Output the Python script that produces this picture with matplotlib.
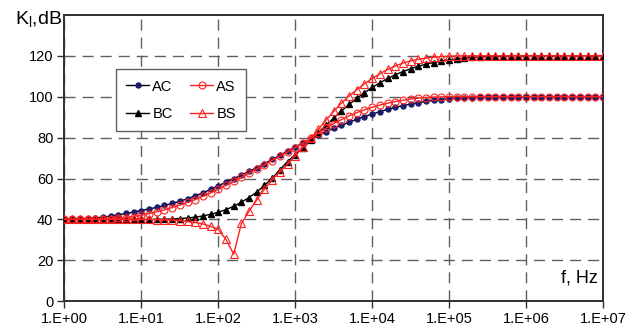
import numpy as np
import matplotlib
matplotlib.use('Agg')
import matplotlib.pyplot as plt
from matplotlib.ticker import FixedLocator, FixedFormatter

plt.rcParams['font.family'] = ['Liberation Sans', 'DejaVu Sans']

# frequency grid: 10 points per decade, 1 Hz .. 10 MHz
freq = np.logspace(0, 7, 71)

AC = [40.0, 40.1, 40.2, 40.4, 40.7, 41.1, 41.6, 42.2, 42.9, 43.6,
      44.3, 45.1, 45.9, 46.8, 47.8, 48.9, 50.1, 51.5, 53.0, 54.7,
      56.5, 58.2, 59.9, 61.7, 63.5, 65.3, 67.3, 69.3, 71.3, 73.4,
      75.5, 77.4, 79.3, 81.1, 82.9, 84.5, 86.0, 87.5, 89.0, 90.3,
      91.5, 92.7, 93.8, 94.8, 95.6, 96.4, 97.1, 97.7, 98.2, 98.6,
      98.9, 99.2, 99.4, 99.6, 99.7, 99.8, 99.9, 99.9, 100.0, 100.0,
      100.0, 100.0, 100.0, 100.0, 100.0, 100.0, 100.0, 100.0, 100.0, 100.0,
      100.0]

AS = [40.0, 40.0, 40.0, 40.1, 40.1, 40.2, 40.4, 40.6, 40.9, 41.4,
      42.0, 42.8, 43.7, 44.7, 45.8, 47.0, 48.3, 49.7, 51.3, 53.0,
      54.8, 56.7, 58.6, 60.6, 62.6, 64.6, 66.7, 68.8, 70.9, 73.0,
      75.1, 77.3, 79.7, 82.2, 84.6, 86.8, 88.8, 90.6, 92.2, 93.6,
      94.8, 95.9, 96.8, 97.6, 98.3, 98.9, 99.3, 99.6, 99.8, 99.9,
      100.0, 100.0, 100.0, 100.0, 100.0, 100.0, 100.0, 100.0, 100.0, 100.0,
      100.0, 100.0, 100.0, 100.0, 100.0, 100.0, 100.0, 100.0, 100.0, 100.0,
      100.0]

BC = [40.0, 40.0, 40.0, 40.0, 40.0, 40.0, 40.0, 40.0, 40.0, 40.0,
      40.0, 40.0, 40.0, 40.1, 40.2, 40.4, 40.7, 41.1, 41.7, 42.5,
      43.5, 44.8, 46.4, 48.4, 50.7, 53.4, 56.6, 60.2, 64.2, 68.3,
      71.7, 75.0, 78.6, 82.3, 86.0, 89.6, 93.0, 96.2, 99.2, 102.0,
      104.5, 106.8, 108.9, 110.7, 112.3, 113.7, 114.9, 115.9, 116.7, 117.4,
      118.0, 118.5, 118.9, 119.2, 119.5, 119.7, 119.8, 119.9, 120.0, 120.0,
      120.0, 120.0, 120.0, 120.0, 120.0, 120.0, 120.0, 120.0, 120.0, 120.0,
      120.0]

BS = [40.0, 40.0, 40.0, 40.0, 40.0, 40.0, 40.0, 40.0, 40.0, 40.0,
      40.0, 40.0, 39.9, 39.8, 39.6, 39.4, 39.0, 38.5, 37.8, 36.6,
      35.1, 30.2, 23.0, 38.0, 44.0, 49.5, 54.8, 59.3, 63.2, 67.0,
      71.0, 75.2, 79.6, 84.0, 88.5, 92.8, 96.8, 100.3, 103.4, 106.3,
      108.9, 111.2, 113.3, 115.0, 116.4, 117.5, 118.3, 118.9, 119.3, 119.6,
      119.8, 119.9, 120.0, 120.0, 120.0, 120.0, 120.0, 120.0, 120.0, 120.0,
      120.0, 120.0, 120.0, 120.0, 120.0, 120.0, 120.0, 120.0, 120.0, 120.0,
      120.0]

xticks = [1e0, 1e1, 1e2, 1e3, 1e4, 1e5, 1e6, 1e7]
xticklabels = ['1.E+00', '1.E+01', '1.E+02', '1.E+03', '1.E+04', '1.E+05', '1.E+06', '1.E+07']
yticks = [0, 20, 40, 60, 80, 100, 120]

fig = plt.figure(figsize=(6.38, 3.31), dpi=100)
ax = fig.add_axes([0.101, 0.090, 0.844, 0.865])

red = '#ff2020'
navy = '#1c1c6e'

ax.plot(freq, AC, color='black', lw=1.0, marker='o', ms=3.6,
        mfc=navy, mec=navy, label='AC', zorder=3)
ax.plot(freq, BC, color='black', lw=1.0, marker='^', ms=5,
        mfc='black', mec='black', label='BC', zorder=3)
ax.plot(freq, AS, color=red, lw=1.0, marker='o', ms=5,
        mfc='none', mec=red, mew=0.8, label='AS', zorder=4)
ax.plot(freq, BS, color=red, lw=1.0, marker='^', ms=5.5,
        mfc='none', mec=red, mew=0.8, label='BS', zorder=4)

ax.set_xscale('log')
ax.set_xlim(1, 1e7)
ax.set_ylim(0, 140)
ax.xaxis.set_major_locator(FixedLocator(xticks))
ax.xaxis.set_major_formatter(FixedFormatter(xticklabels))
ax.xaxis.set_minor_locator(FixedLocator([]))
ax.set_yticks(yticks)

ax.grid(True, color='#606060', lw=1.0, linestyle=(0, (8, 5)))
ax.tick_params(axis='both', direction='out', length=5, width=1,
               color='#303030', labelsize=10.5, pad=3)
for s in ax.spines.values():
    s.set_color('#303030')
    s.set_linewidth(1.4)

ax.text(-0.004, 0.982, r'K$_\mathregular{l}$,dB', transform=ax.transAxes,
        ha='right', va='center', fontsize=14)
ax.text(0.991, 0.08, 'f, Hz', transform=ax.transAxes,
        ha='right', va='center', fontsize=13)

leg = ax.legend(ncol=2, loc='upper left', bbox_to_anchor=(0.0956, 0.81),
                borderaxespad=0, fancybox=False, framealpha=1,
                edgecolor='#606060', fontsize=10.5, handlelength=1.6,
                handletextpad=0.2, columnspacing=1.2, labelspacing=0.9,
                borderpad=0.7)
leg.get_frame().set_linewidth(1.0)

fig.savefig('out.png', dpi=100)
